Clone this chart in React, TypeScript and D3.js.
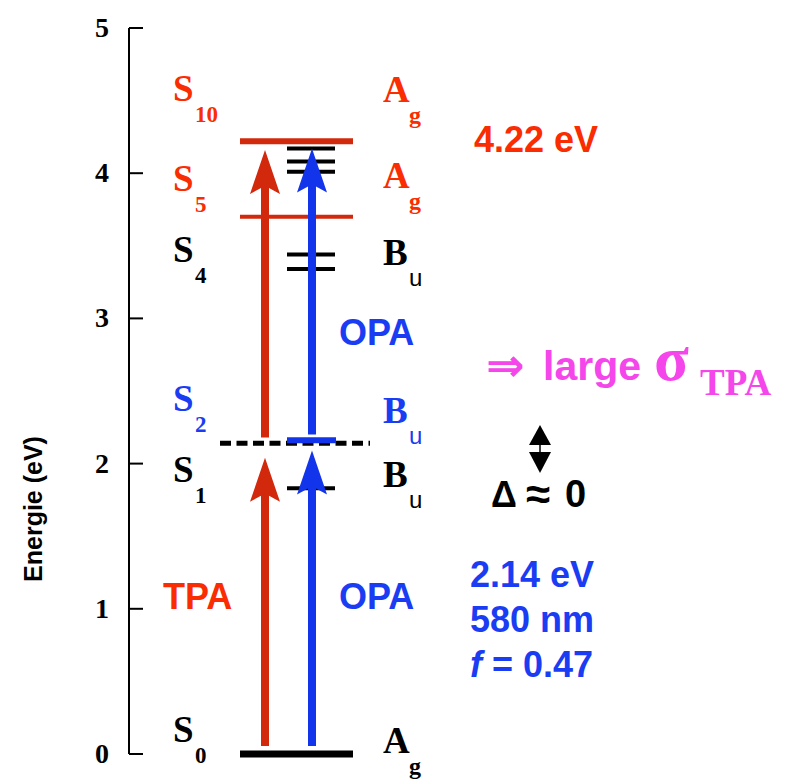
import React from "react";
import * as d3 from "d3";

const W = 785;
const H = 779;

// energy levels (eV)
const redLevels = [4.22, 3.7];
const blackLevels = [4.17, 4.08, 4.01, 3.44, 3.34, 1.83];
const blueLevels = [2.16];
const dashedLevel = 2.14;
const groundLevel = 0;

// arrows [from, to] in eV
const tpaArrows = [
  [0.055, 2.04],
  [2.18, 4.16],
];
const opaArrows = [
  [0.055, 2.09],
  [2.2, 4.17],
];

const yTicks = [0, 1, 2, 3, 4, 5];

// state labels
const stateSubs = ["10", "5", "4", "2", "1", "0"];
const stateEnergies = [4.5, 3.88, 3.39, 2.36, 1.87, 0.08];
const symNames = ["A", "A", "B", "B", "B", "A"];
const symSubs = ["g", "g", "u", "u", "u", "g"];
const symEnergies = [4.49, 3.9, 3.37, 2.28, 1.84, 0.007];
const stateKinds = ["red", "red", "black", "blue", "black", "black"];

const RED_LINE = "#d2280c";
const RED_TEXT = "#fa2c02";
const BLUE_LINE = "#1234ea";
const BLUE_TEXT = "#1a3cf3";
const MAGENTA = "#f446ea";
const kindColor: Record<string, string> = {
  red: RED_TEXT,
  blue: BLUE_TEXT,
  black: "#000",
};

const SERIF = "'Liberation Serif', 'Times New Roman', serif";
const SANS = "'Liberation Sans', Arial, sans-serif";

const y = d3.scaleLinear().domain([0, 5]).range([754, 28]);

const AXIS_X = 129;
const WIDE = [240, 353];
const SHORT = [287, 335];
const RED_X = 265;
const BLUE_X = 312;

function arrowPath(x: number, from: number, to: number) {
  const tip = y(to);
  const bot = y(from);
  const hw = 15;
  const hl = 44;
  const sw = 4;
  return `M${x},${tip} L${x + hw},${tip + hl} L${x + sw},${tip + hl - 6} L${x + sw},${bot} L${x - sw},${bot} L${x - sw},${tip + hl - 6} L${x - hw},${tip + hl} Z`;
}

export default function App() {
  return (
    <svg
      width={W}
      height={H}
      style={{ position: "absolute", left: 0, top: 0, background: "#fff" }}
    >
      {/* axis */}
      <line x1={AXIS_X} x2={AXIS_X} y1={y(5)} y2={y(0)} stroke="#000" strokeWidth={2} />
      {yTicks.map((t) => (
        <g key={t}>
          <line x1={AXIS_X} x2={AXIS_X + 14} y1={y(t)} y2={y(t)} stroke="#000" strokeWidth={2} />
          <text
            x={109}
            y={y(t) + 9}
            textAnchor="end"
            fontFamily={SERIF}
            fontWeight="bold"
            fontSize={28}
          >
            {t}
          </text>
        </g>
      ))}
      <text
        transform={`translate(42,509) rotate(-90)`}
        textAnchor="middle"
        fontFamily={SANS}
        fontWeight="bold"
        fontSize={25}
      >
        Energie (eV)
      </text>

      {/* levels */}
      <line x1={WIDE[0]} x2={WIDE[1]} y1={y(groundLevel)} y2={y(groundLevel)} stroke="#000" strokeWidth={7} />
      {redLevels.map((e, i) => (
        <line key={"r" + i} x1={WIDE[0]} x2={WIDE[1]} y1={y(e)} y2={y(e)} stroke={RED_LINE} strokeWidth={i === 0 ? 6 : 4} />
      ))}
      {blackLevels.map((e, i) => (
        <line key={"k" + i} x1={SHORT[0]} x2={SHORT[1]} y1={y(e)} y2={y(e)} stroke="#000" strokeWidth={4} />
      ))}

      {/* arrows */}
      {tpaArrows.map(([a, b], i) => (
        <path key={"t" + i} d={arrowPath(RED_X, a, b)} fill={RED_LINE} />
      ))}
      {opaArrows.map(([a, b], i) => (
        <path key={"o" + i} d={arrowPath(BLUE_X, a, b)} fill={BLUE_LINE} />
      ))}

      <line x1={220} x2={370} y1={y(dashedLevel)} y2={y(dashedLevel)} stroke="#000" strokeWidth={5} strokeDasharray="11,5.5" />
      {blueLevels.map((e, i) => (
        <line key={"b" + i} x1={SHORT[0]} x2={SHORT[1] + 1} y1={y(e)} y2={y(e)} stroke={BLUE_LINE} strokeWidth={6} />
      ))}

      {/* state labels */}
      {stateSubs.map((s, i) => {
        const c = kindColor[stateKinds[i]];
        const ly = y(stateEnergies[i]);
        const ry = y(symEnergies[i]);
        const sans = symSubs[i] === "u";
        return (
          <g key={"l" + i} fill={c}>
            <text x={173} y={ly} fontFamily={SERIF} fontWeight="bold" fontSize={37}>S</text>
            <text x={195} y={ly + 21} fontFamily={SERIF} fontWeight="bold" fontSize={23}>{s}</text>
            <text x={383} y={ry} fontFamily={SERIF} fontWeight="bold" fontSize={37}>{symNames[i]}</text>
            <text
              x={409}
              y={ry + 21}
              fontFamily={sans ? SANS : SERIF}
              fontWeight={sans ? "normal" : "bold"}
              fontSize={24}
            >
              {symSubs[i]}
            </text>
          </g>
        );
      })}

      {/* annotations */}
      <text x={474} y={152} fill={RED_TEXT} fontFamily={SANS} fontWeight="bold" fontSize={36}>4.22 eV</text>
      <text x={339} y={345} fill={BLUE_TEXT} fontFamily={SANS} fontWeight="bold" fontSize={36}>OPA</text>
      <text x={163} y={609} fill={RED_TEXT} fontFamily={SANS} fontWeight="bold" fontSize={36}>TPA</text>
      <text x={339} y={609} fill={BLUE_TEXT} fontFamily={SANS} fontWeight="bold" fontSize={36}>OPA</text>

      <g fill={MAGENTA}>
        <text x={486} y={381} fontFamily="'DejaVu Sans', sans-serif" fontWeight="bold" fontSize={46}>⇒</text>
        <text x={543} y={380} fontFamily={SANS} fontWeight="bold" fontSize={41}>large</text>
        <text x={654} y={380} fontFamily={SERIF} fontWeight="bold" fontSize={64}>σ</text>
        <text x={700} y={395} fontFamily={SERIF} fontWeight="bold" fontSize={37}>TPA</text>
      </g>

      {/* delta double arrow */}
      <path d="M540,425 L551,445 L529,445 Z" fill="#000" />
      <line x1={540} x2={540} y1={445} y2={452} stroke="#000" strokeWidth={1.5} />
      <path d="M529,452 L551,452 L540,473 Z" fill="#000" />
      <text x={491} y={507} fontFamily={SANS} fontWeight="bold" fontSize={36}>Δ</text>
      <text x={526} y={509} fontFamily={SANS} fontWeight="bold" fontSize={44}>≈</text>
      <text x={565} y={507} fontFamily={SANS} fontWeight="bold" fontSize={38}>0</text>

      <g fill={BLUE_TEXT} fontFamily={SANS} fontWeight="bold" fontSize={36}>
        <text x={470} y={587}>2.14 eV</text>
        <text x={470} y={632}>580 nm</text>
        <text x={470} y={677}>
          <tspan fontStyle="italic">f</tspan> = 0.47
        </text>
      </g>
    </svg>
  );
}
